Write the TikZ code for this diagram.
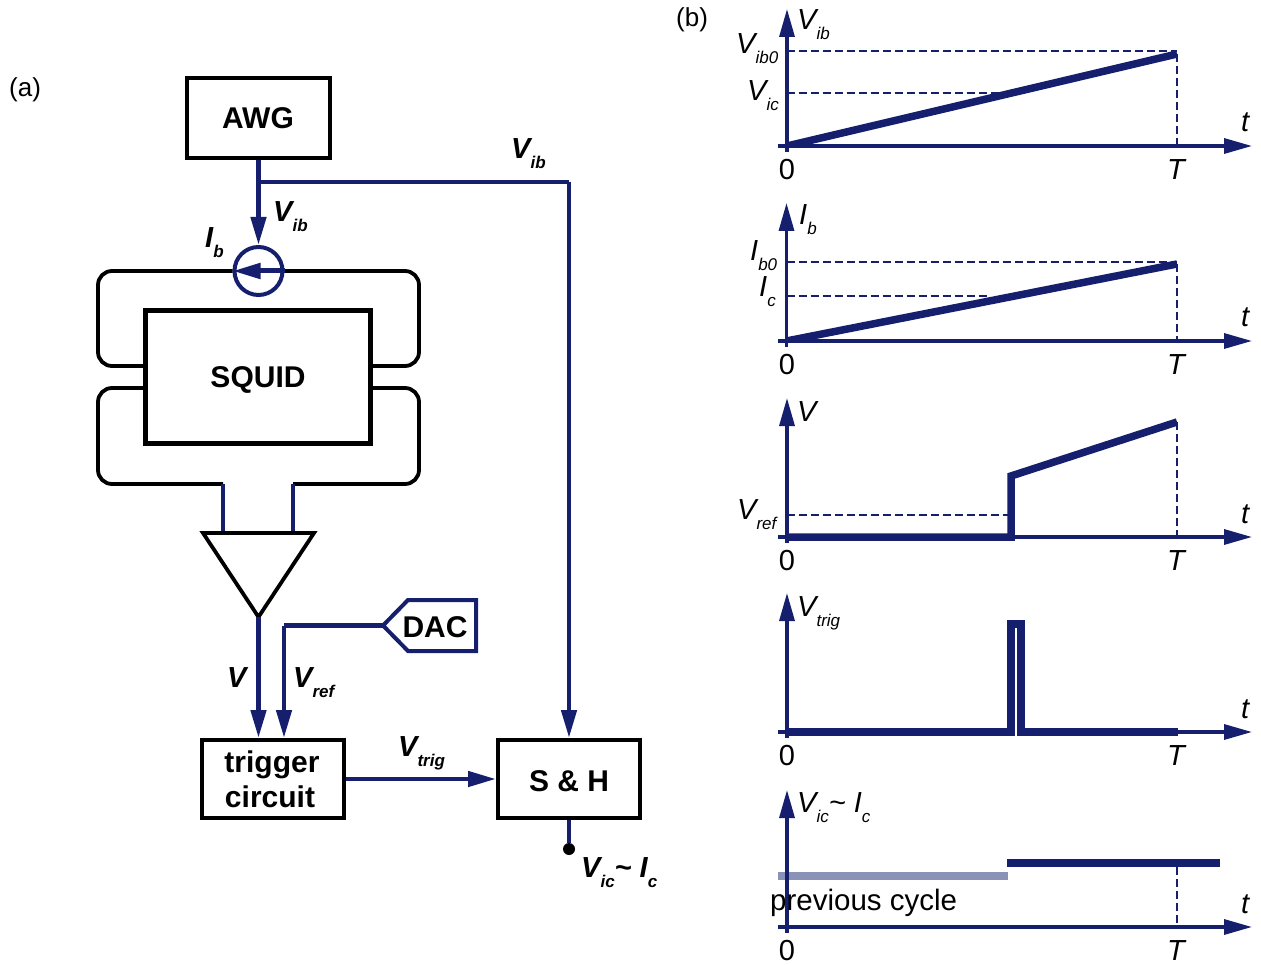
\documentclass[tikz,border=0pt]{standalone}
\usepackage{fontspec}
\setmainfont{Liberation Sans}
\usetikzlibrary{arrows.meta}
\definecolor{navy}{HTML}{151F6D}
\definecolor{faded}{HTML}{8A92B8}
\newcommand\fsz[1]{\fontsize{#1}{#1}\selectfont}
\newcommand\subt[1]{\raisebox{-10pt}{\fsz{17}#1}}
\tikzset{
  x=1pt,y=-1pt,
  box/.style={draw=black,line width=4pt,inner sep=0pt,font=\fsz{30}\bfseries,align=center,text height=21.5pt,text depth=0pt},
  wire/.style={draw=navy,line width=4.6pt},
  arrowwire/.style={wire,-{Triangle[length=28pt,width=15pt,fill=navy]}},
  loopline/.style={draw=black,line width=3.8pt,rounded corners=14pt},
  axisline/.style={draw=navy,line width=3.3pt},
  axisarrow/.style={axisline,-{Triangle[length=28pt,width=15pt,fill=navy]}},
  dashline/.style={draw=navy,line width=2.3pt,dash pattern=on 8pt off 4pt},
  trace/.style={draw=navy,line width=7.5pt,line join=miter},
  blab/.style={inner sep=0pt,anchor=base west,font=\fsz{29}\bfseries\itshape,text=black},
  ilab/.style={inner sep=0pt,anchor=base west,font=\fsz{29}\itshape,text=black},
  tick0/.style={inner sep=0pt,anchor=base,font=\fsz{29},text=black},
  tickT/.style={inner sep=0pt,anchor=base,font=\fsz{29}\itshape,text=black},
  panel/.style={inner sep=0pt,anchor=base west,font=\fsz{26},text=black},
}
\begin{document}
\begin{tikzpicture}
\useasboundingbox (0,0) rectangle (1261,965);

% ---------- panel (a)
\node[panel] (pa) at (9,97) {(a)};
\node[box,minimum width=143,minimum height=80] (awg) at (258,118) {AWG};
\node[box,line width=5pt,minimum width=225,minimum height=133,text height=22pt] (squid) at (258,377) {SQUID};
\node[box,minimum width=142,minimum height=78] (trig) at (273,779) {};
\node[inner sep=0pt,font=\fsz{30}\bfseries,anchor=base] (trigA) at (272,772) {trigger};
\node[inner sep=0pt,font=\fsz{30}\bfseries,anchor=base] (trigB) at (270,807) {circuit};
\node[box,minimum width=142,minimum height=78,text height=24pt] (sh) at (569,779) {S \& H};
\node[circle,draw=navy,line width=4pt,minimum size=48pt,inner sep=0pt] (src) at (258.5,271) {};

\coordinate (sq1) at (squid.west |- 0,366);
\coordinate (sq2) at (squid.east |- 0,366);
\coordinate (sq3) at (squid.west |- 0,388);
\coordinate (sq4) at (squid.east |- 0,388);
\coordinate (stubL) at (223,484);
\coordinate (stubR) at (293,484);
\coordinate (ampL) at (203,533);
\coordinate (ampR) at (314,533);
\coordinate (ampB) at (258.5,617);
\coordinate (ampLin) at (223,533);
\coordinate (ampRin) at (293,533);

\path[loopline] (sq1) -- (98,366) -- (98,271) -- (src.west);
\path[loopline] (src.east) -- (419,271) -- (419,366) -- (sq2);
\path[loopline] (sq3) -- (98,388) -- (98,484) -- (stubL);
\path[loopline] (stubR) -- (419,484) -- (419,388) -- (sq4);
\path[wire] (stubL) -- (ampLin);
\path[wire] (stubR) -- (ampRin);
\draw[black,line width=3.8pt,line join=miter] (ampL) -- (ampR) -- (ampB) -- cycle;

% bias branch
\coordinate (awgOut) at (src.north |- awg.south);
\coordinate (branch) at (src.north |- 0,182);
\coordinate (corner) at (sh.north |- 0,182);
\path[arrowwire] (awgOut) -- (src.north);
\path[wire] (branch) -- (corner);
\path[arrowwire] (corner) -- (sh.north);
\draw[navy,line width=5pt,-{Triangle[length=28pt,width=15pt,fill=navy]}] (src.east) -- (src.west);

% DAC
\node[inner sep=0pt,font=\fsz{30}\bfseries,anchor=base] (dac) at (435,637) {DAC};
\coordinate (dacTip) at (383,625.5);
\draw[navy,line width=4pt,line join=miter] (dacTip) -- (408,600) -- (476,600) -- (476,651) -- (408,651) -- cycle;
\coordinate (vrefC) at (284,625.5);
\path[wire] (dacTip) -- (vrefC);
\coordinate (trigR) at (284,738);
\coordinate (trigV) at (258.5,738);
\path[arrowwire] (vrefC) -- (trigR);
\path[arrowwire] (ampB) -- (trigV);
\path[arrowwire] (trig.east) -- (sh.west);
\node[circle,fill=black,inner sep=0pt,minimum size=12pt] (dot) at (569,849) {};
\path[wire] (sh.south) -- (dot);

\node[blab] (l1) at (511,159) {V\subt{ib}};
\node[blab] (l2) at (273,222) {V\subt{ib}};
\node[blab] (l3) at (205,248) {I\subt{b}};
\node[blab] (l4) at (227,687) {V};
\node[blab] (l5) at (293,687) {V\subt{ref}};
\node[blab] (l6) at (398,756) {V\subt{trig}};
\node[blab] (l7) at (581,877) {V\subt{ic}\textasciitilde{} I\subt{c}};

% ---------- panel (b)
\node[panel] (pb) at (676,27) {(b)};

\foreach \n/\ytop/\yax/\xo in {1/9/146/787,2/203/341/786.5,3/398/537/787,4/593/732/787,5/790/927/787}{
  \coordinate (o\n) at (\xo,\yax);
  \coordinate (top\n) at (\xo,\ytop);
  \coordinate (bot\n) at (\xo,\yax+6);
  \coordinate (xs\n) at (778,\yax);
  \coordinate (xe\n) at (1252,\yax);
  \coordinate (T\n) at (1177,\yax);
}
% faded trace goes beneath axes
\coordinate (pc1) at (778,876);
\coordinate (pc2) at (1008,876);
\path[draw=faded,line width=8pt] (pc1) -- (pc2);

\foreach \n in {1,...,5}{
  \path[axisarrow] (bot\n) -- (top\n);
  \path[axisarrow] (xs\n) -- (xe\n);
}
\foreach \n/\b in {1/180,2/375,3/570,4/765,5/960}{
  \node[tick0] (zero\n) at (787,\b) {0};
  \node[tickT] (tT\n) at (1176,\b) {T};
}
\foreach \n/\b in {1/132,2/327,3/523,4/718,5/913}{
  \node[ilab] (tl\n) at (1241,\b) {t};
}

% chart 1
\coordinate (c1a) at (1177,51);  \coordinate (c1b) at (787,51);
\coordinate (c1c) at (787,93);   \coordinate (c1d) at (1002,93);
\coordinate (c1e) at (1177,54);
\path[dashline] (c1b) -- (c1a);
\path[dashline] (c1c) -- (c1d);
\path[dashline] (c1e) -- (T1);
\begin{scope}
\clip (785,0) rectangle (1179,148);
\path[trace] (o1) -- (c1e);
\end{scope}
\node[ilab] (v1a) at (797,30) {V\subt{ib}};
\node[ilab] (v1b) at (736,54) {V\subt{ib0}};
\node[ilab] (v1c) at (747,101) {V\subt{ic}};

% chart 2
\coordinate (c2a) at (1177,262); \coordinate (c2b) at (786.5,262);
\coordinate (c2c) at (786.5,296);\coordinate (c2d) at (988,296);
\coordinate (c2e) at (1177,264);
\path[dashline] (c2b) -- (c2a);
\path[dashline] (c2c) -- (c2d);
\path[dashline] (c2e) -- (T2);
\begin{scope}
\clip (785,200) rectangle (1179,343);
\path[trace] (o2) -- (c2e);
\end{scope}
\node[ilab] (v2a) at (799,225) {I\subt{b}};
\node[ilab] (v2b) at (750,261) {I\subt{b0}};
\node[ilab] (v2c) at (759,297) {I\subt{c}};

% chart 3
\coordinate (c3a) at (787,515);  \coordinate (c3b) at (1010,515);
\coordinate (c3c) at (1011,537); \coordinate (c3d) at (1011,476);
\coordinate (c3e) at (1177,422);
\path[dashline] (c3a) -- (c3b);
\path[dashline] (c3e) -- (T3);
\begin{scope}
\clip (785,400) rectangle (1179,541);
\path[trace] (o3) -- (c3c) -- (c3d) -- (c3e);
\end{scope}
\node[ilab] (v3a) at (797,421) {V};
\node[ilab] (v3b) at (737,519) {V\subt{ref}};

% chart 4
\coordinate (c4a) at (1011,732); \coordinate (c4b) at (1011,624);
\coordinate (c4c) at (1021,624); \coordinate (c4d) at (1021,732);
\coordinate (c4e) at (1178,732);
\coordinate (c4g) at (1016,629); \coordinate (c4h) at (1016,738);
\path[trace,line width=8pt] (o4) -- (c4a) -- (c4b) -- (c4c) -- (c4d) -- (c4e);
\draw[white,line width=2pt] (c4g) -- (c4h);
\node[ilab] (v4a) at (797,616) {V\subt{trig}};

% chart 5
\coordinate (c5a) at (1007,863); \coordinate (c5b) at (1220,863);
\coordinate (c5c) at (1177,867);
\path[trace,line width=8pt] (c5a) -- (c5b);
\path[dashline] (c5c) -- (T5);
\node[ilab] (v5a) at (797,812) {V\subt{ic}\textasciitilde{} I\subt{c}};
\node[inner sep=0pt,anchor=base west,font=\fsz{29.5},text=black] (prev) at (770,910) {previous cycle};
\end{tikzpicture}
\end{document}
